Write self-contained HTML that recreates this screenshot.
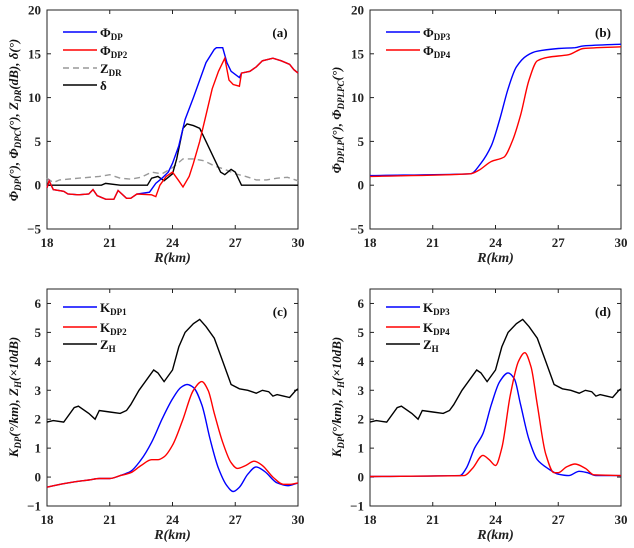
<!DOCTYPE html>
<html><head><meta charset="utf-8"><style>
html,body{margin:0;padding:0;background:#fff;}
svg{display:block;font-family:"Liberation Serif",serif;}
</style></head><body>
<svg id="fig" width="634" height="548" viewBox="0 0 634 548" xmlns="http://www.w3.org/2000/svg"></svg>
<script>
// ---- data ----
const xTicks=[18,21,24,27,30];
const phiTicks=[-5,0,5,10,15,20];
const kTicks=[-1,0,1,2,3,4,5,6];
// panel a
const aPhiDP_x=[18,18.1,18.3,18.8,19,19.5,20,20.2,20.4,20.8,21.2,21.4,21.8,22,22.3,22.9,23.2,23.5,23.8,24,24.3,24.6,25,25.3,25.6,26,26.1,26.4,26.6,26.8,27.2,27.3,27.7,28,28.3,28.8,29.2,29.6,29.8,30];
const aPhiDP_y=[-0.3,0.5,-0.5,-0.7,-1,-1.1,-1,-0.5,-1.2,-1.6,-1.6,-0.6,-1.5,-1.5,-1,-0.8,0.2,0.8,1.5,2.5,4.5,7.5,10,12,14,15.5,15.7,15.7,14,13,12.3,12.8,13,13.5,14.2,14.5,14.2,13.8,13.2,12.8];
const aPhiDP2_x=[18,18.1,18.3,18.8,19,19.5,20,20.2,20.4,20.8,21.2,21.4,21.8,22,22.3,23,23.2,23.4,23.7,24,24.3,24.5,24.8,25,25.3,25.6,25.9,26.2,26.5,26.7,26.9,27.2,27.3,27.7,28,28.3,28.8,29.2,29.6,29.8,30];
const aPhiDP2_y=[-0.3,0.5,-0.5,-0.7,-1,-1.1,-1,-0.5,-1.2,-1.6,-1.6,-0.6,-1.5,-1.5,-1,-1.1,-1.3,0,1,1.5,0.5,-0.2,1,2.5,5,8,11,13,14.5,12,11.5,11.3,12.8,13,13.5,14.2,14.5,14.2,13.8,13.2,12.8];
const aZDR_x=[18,18.3,18.6,19.5,20.5,21,21.5,22,22.5,23,23.5,24,24.5,25,25.5,26,26.5,27,27.5,28,28.5,29,29.5,30];
const aZDR_y=[0.8,0.3,0.6,0.8,1,1.2,0.8,0.7,0.9,1.5,1.3,2,3,3,2.8,2.2,1.8,1.3,1,0.6,0.6,0.8,0.9,0.5];
const aDelta_x=[18,20.6,20.8,21.5,22.8,23,23.3,23.6,24,24.2,24.5,24.7,25,25.3,25.6,26,26.3,26.5,26.8,27,27.3,30];
const aDelta_y=[0,0,0.2,0,0,0.8,1,0.5,1.3,3,6.5,7,6.8,6.5,5,3,1.5,1.2,1.8,1.5,0,0];
// panel b
const bPhi3_x=[18,22.8,23.3,23.8,24.2,24.6,25,25.5,26,27,27.8,28.2,30];
const bPhi3_y=[1.1,1.3,2.5,4.5,7.5,11,13.5,14.8,15.3,15.6,15.7,15.9,16.1];
const bPhi4_x=[18,22.8,23.2,23.8,24.4,24.8,25.2,25.6,26,26.5,27.5,28.2,30];
const bPhi4_y=[1.0,1.3,1.7,2.7,3.2,5,8,12,14.2,14.6,14.9,15.6,15.8];
// panels c,d reflectivity
const zh_x=[18,18.3,18.8,19.3,19.5,20,20.3,20.5,21,21.5,21.8,22,22.4,22.8,23.1,23.3,23.6,24,24.3,24.6,25,25.3,25.6,26,26.4,26.8,27.2,27.6,28,28.3,28.6,28.8,29,29.3,29.6,29.9,30];
const zh_y=[1.9,1.95,1.9,2.4,2.45,2.2,2,2.3,2.25,2.2,2.3,2.5,3,3.4,3.7,3.6,3.3,3.7,4.5,5.0,5.3,5.45,5.2,4.8,4,3.2,3.05,3,2.9,3.0,2.95,2.8,2.85,2.8,2.75,3.0,3.05];
const cK1_x=[18,19,20,20.5,21,21.5,22,22.5,23,23.5,24,24.4,24.7,25,25.4,25.8,26.2,26.6,26.9,27.2,27.6,28,28.4,29,29.5,30];
const cK1_y=[-0.35,-0.2,-0.1,-0.05,-0.05,0.05,0.2,0.6,1.2,2,2.7,3.1,3.2,3.1,2.5,1.3,0.3,-0.3,-0.5,-0.35,0.1,0.35,0.2,-0.2,-0.3,-0.2];
const cK2_x=[18,19,20,20.5,21,21.5,22,22.5,23,23.3,23.6,24,24.5,25,25.4,25.7,26,26.4,26.8,27.1,27.5,27.9,28.3,28.8,29.3,29.6,30];
const cK2_y=[-0.35,-0.2,-0.1,-0.05,-0.05,0.05,0.15,0.4,0.6,0.6,0.7,1.1,2,3,3.3,3.0,2.2,1.2,0.5,0.3,0.4,0.55,0.4,0,-0.25,-0.25,-0.2];
const dK3_x=[18,22.3,22.6,23,23.4,23.8,24.2,24.6,24.9,25.2,25.6,26,26.5,27,27.5,28,28.4,28.8,30];
const dK3_y=[0.02,0.05,0.3,1,1.5,2.5,3.3,3.6,3.4,2.5,1.3,0.6,0.3,0.1,0.05,0.2,0.15,0.05,0.05];
const dK4_x=[18,22.5,22.9,23.4,23.7,24,24.3,24.7,25.1,25.4,25.7,26,26.4,26.8,27,27.4,27.8,28.3,28.7,30];
const dK4_y=[0.02,0.05,0.3,0.75,0.6,0.4,1,2.8,4,4.3,3.8,2.5,0.8,0.15,0.15,0.35,0.45,0.3,0.08,0.05];

const NS="http://www.w3.org/2000/svg";
const svg=document.getElementById('fig');
function mk(tag,attrs,parent){const e=document.createElementNS(NS,tag);for(const k in attrs)e.setAttribute(k,attrs[k]);(parent||svg).appendChild(e);return e;}

function panel(id,L,R,T,B,ymin,ymax,yticks){
  const g=mk('g',{});
  
  
  const sx=v=>L+(v-18)/(30-18)*(R-L);
  const sy=v=>B-(v-ymin)/(ymax-ymin)*(B-T);
  const box=mk('rect',{x:L,y:T,width:R-L,height:B-T,fill:'none',stroke:'#222','stroke-width':1},g);
  
  
  xTicks.forEach(t=>{const x=sx(t);
    mk('line',{x1:x,x2:x,y1:B,y2:B-4,stroke:'#222'},g);
    mk('line',{x1:x,x2:x,y1:T,y2:T+4,stroke:'#222'},g);
    const tx=mk('text',{x:x,y:B+18,'text-anchor':'middle','font-size':13,'font-weight':'bold',fill:'#222'},g);
    tx.textContent=t;
    
    
  });
  yticks.forEach(t=>{const y=sy(t);
    mk('line',{x1:L,x2:L+4,y1:y,y2:y,stroke:'#222'},g);
    mk('line',{x1:R,x2:R-4,y1:y,y2:y,stroke:'#222'},g);
    const tx=mk('text',{x:L-6,y:y+4.5,'text-anchor':'end','font-size':13,'font-weight':'bold',fill:'#222'},g);
    tx.textContent=t<0?'\u2212'+(-t):t;
    
    
  });
  const xl=mk('text',{x:(L+R)/2,y:B+33,'text-anchor':'middle','font-size':14,'font-weight':'bold','font-style':'italic',fill:'#222'},g);
  xl.textContent='R(km)';
  
  
  return {g,sx,sy,L,R,T,B};
}
function line(p,xs,ys,color,name,dash,smooth){
  const n=xs.length;
  let d='M'+p.sx(xs[0]).toFixed(1)+','+p.sy(ys[0]).toFixed(1);
  // slopes in data space (non-uniform Catmull-Rom), x monotone so no loops
  const m=xs.map((x,i)=>{
    if(i===0)return (ys[1]-ys[0])/(xs[1]-xs[0]);
    if(i===n-1)return (ys[n-1]-ys[n-2])/(xs[n-1]-xs[n-2]);
    const s0=(ys[i]-ys[i-1])/(xs[i]-xs[i-1]), s1=(ys[i+1]-ys[i])/(xs[i+1]-xs[i]);
    if(s0*s1<=0)return 0;
    return 2/(1/s0+1/s1);
  });
  for(let i=1;i<n;i++){
    if(smooth){
      const h=xs[i]-xs[i-1];
      const c1x=xs[i-1]+h/3,c1y=ys[i-1]+m[i-1]*h/3;
      const c2x=xs[i]-h/3,c2y=ys[i]-m[i]*h/3;
      d+='C'+p.sx(c1x).toFixed(1)+','+p.sy(c1y).toFixed(1)+' '+p.sx(c2x).toFixed(1)+','+p.sy(c2y).toFixed(1)+' '+p.sx(xs[i]).toFixed(1)+','+p.sy(ys[i]).toFixed(1);
    } else d+='L'+p.sx(xs[i]).toFixed(1)+','+p.sy(ys[i]).toFixed(1);
  }
  const e=mk('path',{d:d,fill:'none',stroke:color,'stroke-width':1.4},p.g);
  if(dash)e.setAttribute('stroke-dasharray',dash);
  
  
}
function legend(p,items){
  items.forEach((it,i)=>{
    const y=it[3];
    const l=mk('line',{x1:p.L+16,x2:p.L+50,y1:y,y2:y,stroke:it[0],'stroke-width':1.5},p.g);
    if(it[4])l.setAttribute('stroke-dasharray',it[4]);
    
    
    const t=mk('text',{x:p.L+53,y:y+5,'font-size':13,'font-weight':'bold',fill:'#111'},p.g);
    t.innerHTML=it[1]+'<tspan font-size="9" dy="3">'+it[2]+'</tspan>';
    
    
  });
}
function tag(p,txt){
  const t=mk('text',{x:p.R-18,y:p.T+27,'text-anchor':'middle','font-size':13,'font-weight':'bold',fill:'#111'},p.g);
  t.textContent=txt;
  
  
}
function ylabel(p,html,cy){
  const t=mk('text',{x:0,y:0,'text-anchor':'middle','font-size':13,'font-weight':'bold','font-style':'italic',fill:'#111',transform:'translate('+(p.L-29)+','+cy+') rotate(-90)'},p.g);
  t.innerHTML=html;
  
  
}
const S=(s)=>'<tspan font-size="9" dy="3">'+s+'</tspan><tspan dy="-3">';
// (a)
const a=panel('panel-a',47,298,10,229,-5,20,phiTicks);
line(a,aZDR_x,aZDR_y,'#999','zdr-line','6,4');
line(a,aDelta_x,aDelta_y,'#000','delta-line');
line(a,aPhiDP_x,aPhiDP_y,'#0000ff','phidp-line');
line(a,aPhiDP2_x,aPhiDP2_y,'#ff0000','phidp2-line');
legend(a,[['#0000ff','Φ','DP',32],['#ff0000','Φ','DP2',50],['#999','Z','DR',68,'6,4'],['#000','δ','',85]]);
tag(a,'(a)');
ylabel(a,'Φ'+S('DP')+'(°), Φ'+S('DPC')+'(°), Z'+S('DR')+'(dB), δ(°)</tspan>',120);
// (b)
const b=panel('panel-b',370,621,10,229,-5,20,phiTicks);
line(b,bPhi3_x,bPhi3_y,'#0000ff','phidp3-line',null,true);
line(b,bPhi4_x,bPhi4_y,'#ff0000','phidp4-line',null,true);
legend(b,[['#0000ff','Φ','DP3',32],['#ff0000','Φ','DP4',50]]);
tag(b,'(b)');
ylabel(b,'Φ'+S('DPLP')+'(°), Φ'+S('DPLPC')+'(°)</tspan>',120);
// (c)
const c=panel('panel-c',47,298,289,506,-1,6.5,kTicks.filter(v=>v<=6));
line(c,zh_x,zh_y,'#000','zh-line');
line(c,cK1_x,cK1_y,'#0000ff','kdp1-line',null,true);
line(c,cK2_x,cK2_y,'#ff0000','kdp2-line',null,true);
legend(c,[['#0000ff','K','DP1',307],['#ff0000','K','DP2',327],['#000','Z','H',344]]);
tag(c,'(c)');
ylabel(c,'K'+S('DP')+'(°/km), Z'+S('H')+'(×10dB)</tspan>',397);
// (d)
const d=panel('panel-d',370,621,289,506,-1,6.5,kTicks.filter(v=>v<=6));
line(d,zh_x,zh_y,'#000','zh-line');
line(d,dK3_x,dK3_y,'#0000ff','kdp3-line',null,true);
line(d,dK4_x,dK4_y,'#ff0000','kdp4-line',null,true);
legend(d,[['#0000ff','K','DP3',307],['#ff0000','K','DP4',327],['#000','Z','H',344]]);
tag(d,'(d)');
ylabel(d,'K'+S('DP')+'(°/km), Z'+S('H')+'(×10dB)</tspan>',397);
</script>
</body></html>
